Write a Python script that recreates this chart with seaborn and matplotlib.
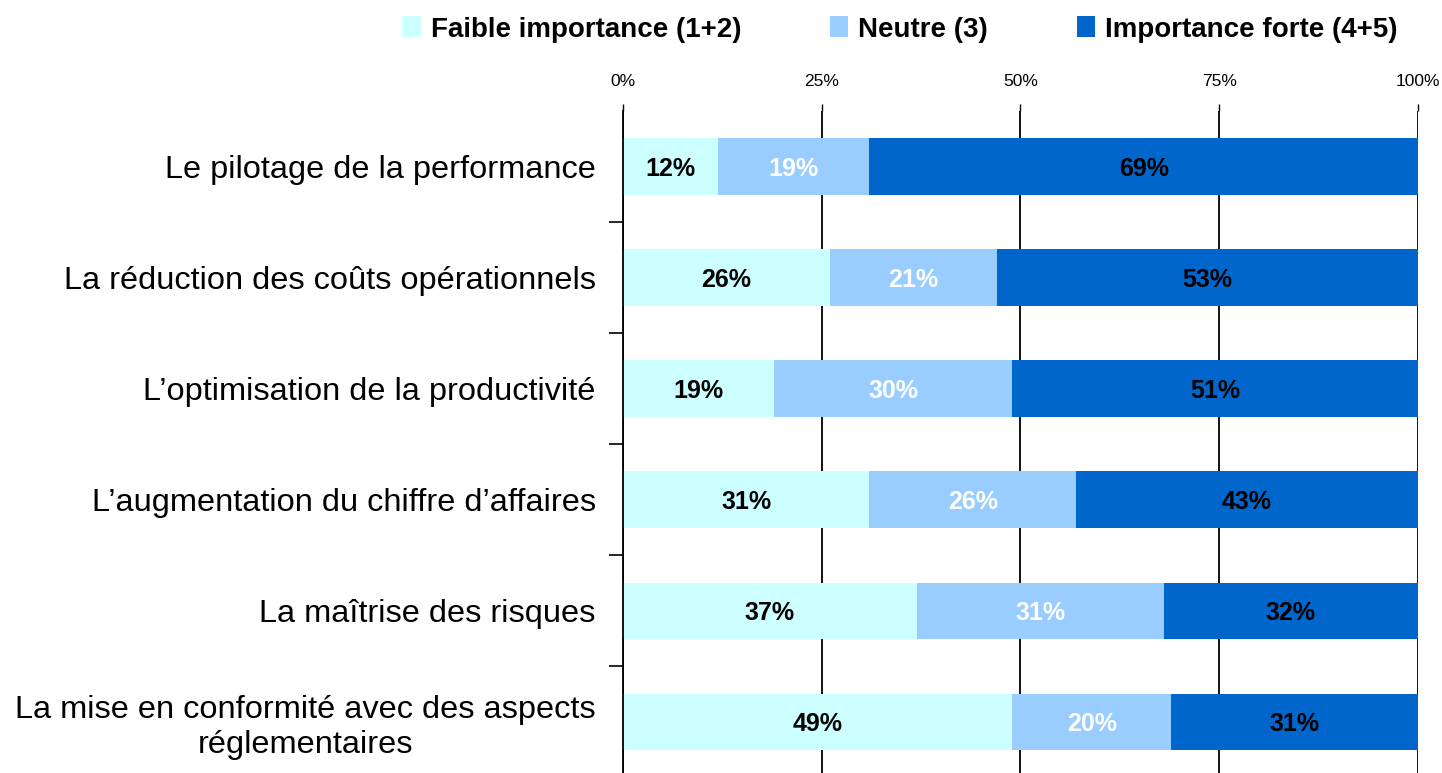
import matplotlib
matplotlib.use("Agg")
import matplotlib.pyplot as plt
import seaborn as sns
import pandas as pd
import numpy as np
from matplotlib.ticker import FixedLocator, PercentFormatter
from matplotlib.patches import Patch

categories = [
    "Le pilotage de la performance",
    "La réduction des coûts opérationnels",
    "L\u2019optimisation de la productivité",
    "L\u2019augmentation du chiffre d\u2019affaires",
    "La maîtrise des risques",
    "La mise en conformité avec des aspects\nréglementaires",
]
faible = [12, 26, 19, 31, 37, 49]
neutre = [19, 21, 30, 26, 31, 20]
forte = [69, 53, 51, 43, 32, 31]
series_names = ["Faible importance (1+2)", "Neutre (3)", "Importance forte (4+5)"]
colors = ["#CCFFFF", "#99CCFF", "#0066CC"]
label_colors = ["black", "white", "black"]
xticks = [0, 25, 50, 75, 100]

sns.set_theme(style="white")
plt.rcParams["font.family"] = ["Liberation Sans", "DejaVu Sans"]
plt.rcParams["text.color"] = "black"
plt.rcParams["xtick.color"] = "black"
plt.rcParams["ytick.color"] = "black"

df = pd.DataFrame({"cat": categories, "faible": faible, "neutre": neutre, "forte": forte})
df["c1"] = df["faible"]
df["c2"] = df["faible"] + df["neutre"]
df["c3"] = df["c2"] + df["forte"]

fig = plt.figure(figsize=(14.42, 7.73), dpi=100)
ax = fig.add_axes([0.432, -0.0058, 0.5513, 0.8622])

bw = 0.51
for col, c in zip(["c3", "c2", "c1"], [colors[2], colors[1], colors[0]]):
    sns.barplot(data=df, x=col, y="cat", orient="h", color=c, saturation=1,
                width=bw, ax=ax, edgecolor="none", linewidth=0)

# value labels
for i in range(len(categories)):
    starts = [0, df["c1"][i], df["c2"][i]]
    vals = [faible[i], neutre[i], forte[i]]
    for s, v, lc in zip(starts, vals, label_colors):
        ax.text(s + v / 2, i + 0.02, f"{v}%", ha="center", va="center",
                fontsize=18, fontweight="bold", color=lc)

ax.set_xlim(0, 100)
ax.set_ylim(len(categories) - 0.5, -0.5)
ax.xaxis.tick_top()
ax.set_xticks(xticks)
ax.xaxis.set_major_formatter(PercentFormatter(decimals=0))
ax.tick_params(axis="x", top=True, direction="out", length=5, width=1,
               color="black", labelsize=12.5, labelcolor="black", pad=10.5)
ax.grid(axis="x", color="black", linewidth=1.3)
ax.grid(axis="y", visible=False)
ax.set_axisbelow(True)

ax.set_xlabel("")
ax.set_ylabel("")
ax.set_yticks(range(len(categories)))
ax.set_yticklabels(categories, fontsize=23.4, multialignment="center", color="black")
ax.tick_params(axis="y", which="major", length=0, pad=19.5)
ax.yaxis.set_minor_locator(FixedLocator(np.arange(0.5, len(categories) - 0.5, 1)))
ax.tick_params(axis="y", which="minor", left=True, length=10, width=1.2, color="black")

for s in ["top", "right", "bottom"]:
    ax.spines[s].set_visible(False)
ax.spines["left"].set_color("black")
ax.spines["left"].set_linewidth(1.3)

handles = [Patch(facecolor=c, edgecolor="none", label=n) for c, n in zip(colors, series_names)]
fig.legend(handles=handles, loc="center", bbox_to_anchor=(0.624, 0.962), ncol=3,
           frameon=False, prop={"weight": "bold", "size": 20},
           handlelength=0.65, handleheight=0.8, handletextpad=0.36, columnspacing=3.2)

fig.savefig("out.png", dpi=100)
